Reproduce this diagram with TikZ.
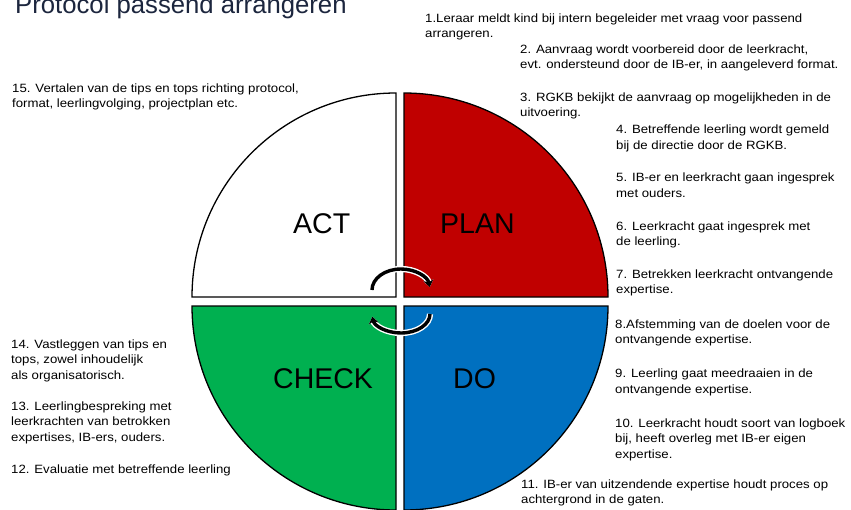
\documentclass[tikz,border=0pt]{standalone}
\usepackage{fontspec}
\setmainfont{Liberation Sans}
\newfontfamily\bodyfont[FakeStretch=1.1]{Liberation Sans}
\usetikzlibrary{arrows.meta}
\definecolor{planred}{RGB}{192,0,0}
\definecolor{doblue}{RGB}{0,112,192}
\definecolor{checkgreen}{RGB}{0,176,80}
\definecolor{titlenavy}{RGB}{28,38,62}
\tikzset{
  quad/.style={draw=black, line width=1.3pt, line join=miter},
  phase/.style={anchor=base west, inner sep=0pt, font=\fontsize{28.5}{30}\selectfont, text=black},
  info/.style={anchor=north west, inner sep=0pt, align=left, font=\bodyfont\fontsize{12}{15.5}\selectfont, text=black},
  cyclearrow/.style={draw=black, line width=3.4pt, -{Stealth[length=7pt,width=10pt]},
     preaction={draw=white, line width=6.2pt}}
}
\begin{document}
\begin{tikzpicture}[x=1pt,y=1pt]
\useasboundingbox (0,0) rectangle (851,-509);
\clip (0,0) rectangle (851,-509);
% quadrants
\fill[white] (0,0) rectangle (851,-509);
\draw[quad, fill=white] (396,-297) -- (192,-297) arc[start angle=180, end angle=90, radius=204] -- cycle;
\draw[quad, fill=planred] (404,-297) -- (404,-93) arc[start angle=90, end angle=0, radius=204] -- cycle;
\draw[quad, fill=doblue] (404,-306) -- (608,-306) arc[start angle=0, end angle=-90, radius=204] -- cycle;
\draw[quad, fill=checkgreen] (396,-306) -- (396,-510) arc[start angle=-90, end angle=-180, radius=204] -- cycle;
% phase labels
\node[phase] (act) at (293,-233) {ACT};
\node[phase] (plan) at (440,-233) {PLAN};
\node[phase] (check) at (273,-388) {CHECK};
\node[phase] (do) at (453,-388) {DO};
% cycle arrows
\coordinate (upc) at (401,-290);
\coordinate (loc) at (401,-314);
\draw[cyclearrow] (upc) ++(-29,0) arc[start angle=180, end angle=8, x radius=29, y radius=21];
\draw[cyclearrow] (loc) ++(29,0) arc[start angle=0, end angle=-172, x radius=29, y radius=19];
% title
\node[anchor=base west, inner sep=0pt, font=\fontsize{25.7}{28}\selectfont, text=titlenavy] (title) at (15,-13) {Protocol passend arrangeren};
% steps
\node[info] (t1) at (425,-13.5) {1.Leraar meldt kind bij intern begeleider met vraag voor passend\\arrangeren.};
\node[info] (t2) at (520,-44.5) {2. Aanvraag wordt voorbereid door de leerkracht,\\evt. ondersteund door de IB-er, in aangeleverd format.};
\node[info] (t3) at (520,-92.5) {3. RGKB bekijkt de aanvraag op mogelijkheden in de\\uitvoering.};
\node[info] (t4) at (616,-125) {4. Betreffende leerling wordt  gemeld\\bij de directie door de RGKB.};
\node[info] (t5) at (616,-173) {5. IB-er en leerkracht gaan ingesprek\\met ouders.};
\node[info] (t6) at (616,-221.5) {6. Leerkracht gaat ingesprek met\\de leerling.};
\node[info] (t7) at (616,-269.5) {7. Betrekken leerkracht ontvangende\\expertise.};
\node[info] (t8) at (615,-319.5) {8.Afstemming van de doelen voor de\\ontvangende expertise.};
\node[info] (t9) at (615,-369) {9. Leerling gaat meedraaien in de\\ontvangende expertise.};
\node[info] (t10) at (615,-418.5) {10. Leerkracht houdt soort van logboek\\bij, heeft overleg met IB-er eigen\\expertise.};
\node[info] (t11) at (521,-479.5) {11. IB-er van uitzendende expertise houdt proces op\\achtergrond in de gaten.};
\node[info] (t12) at (11,-464.5) {12. Evaluatie met betreffende leerling};
\node[info] (t13) at (11,-401.5) {13. Leerlingbespreking met\\leerkrachten van betrokken\\expertises, IB-ers, ouders.};
\node[info] (t14) at (11,-339.5) {14. Vastleggen van tips en\\tops, zowel inhoudelijk\\als organisatorisch.};
\node[info] (t15) at (12,-83.5) {15. Vertalen van de tips en tops richting protocol,\\format, leerlingvolging, projectplan etc.};
\end{tikzpicture}
\end{document}
